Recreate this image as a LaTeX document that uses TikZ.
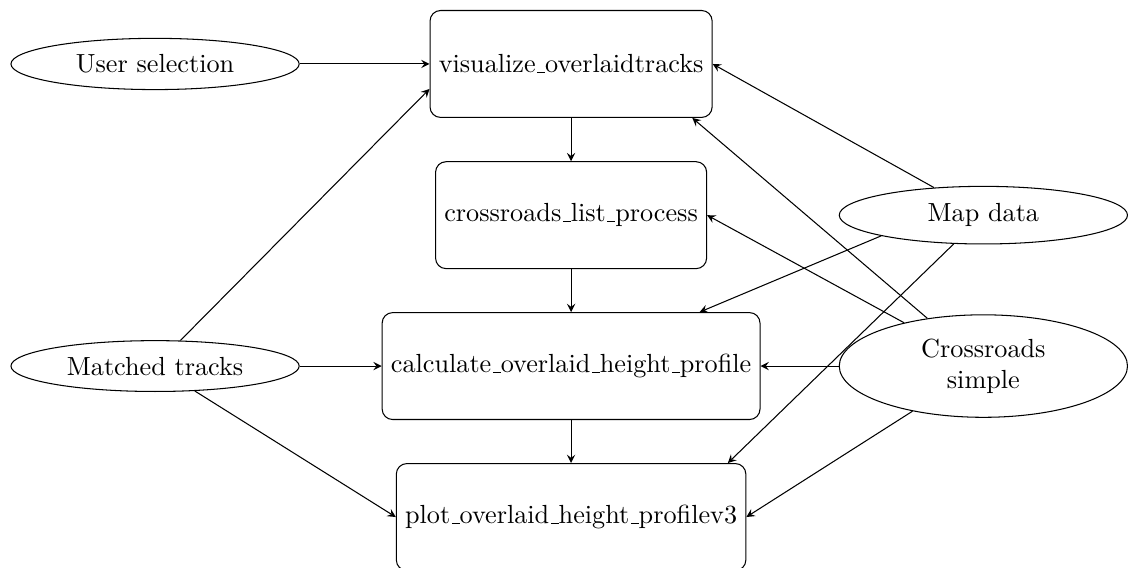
\documentclass[tikz,border=0pt]{standalone}
\usepackage{tikz}
\usetikzlibrary{shapes.geometric}
\newcommand{\us}{\kern.06em\vbox{\hrule width.3em}}

\begin{document}
\begin{tikzpicture}[>=stealth,
    proc/.style={draw, rectangle, rounded corners, minimum height=40.8pt},
    src/.style={draw, ellipse, minimum width=110pt, align=center}]
    \useasboundingbox (0,0) rectangle (15.13,-7.607);
    \node[src] (user) at (2.08,-0.858) {User selection};
    \node[src] (matched) at (2.08,-4.91) {Matched tracks};
    \node[src] (map) at (13.19,-2.886) {Map data};
    \node[src] (cross) at (13.19,-4.91) {Crossroads\\simple};

    \node[proc] (vis) at (7.66,-0.858) {visualize\us overlaidtracks};
    \node[proc] (list) at (7.66,-2.886) {crossroads\us list\us process};
    \node[proc] (calc) at (7.66,-4.91) {calculate\us overlaid\us height\us profile};
    \node[proc] (plot) at (7.66,-6.935) {plot\us overlaid\us height\us profilev3};

    \draw[->] (vis) -- (list); \draw[->] (list) -- (calc); \draw[->] (calc) -- (plot);
    \draw[->] (user) -- (vis);
    \draw[->] (matched) -- (vis.190); \draw[->] (matched) -- (calc); \draw[->] (matched) -- (plot.west);
    \draw[->] (map) -- (vis.east); \draw[->] (map.south west) -- (calc); \draw[->] (map) -- (plot.19.6);
    \draw[->] (cross) -- (vis.-24.5); \draw[->] (cross) -- (list.east); \draw[->] (cross) -- (calc); \draw[->] (cross) -- (plot.east);
\end{tikzpicture}
\end{document}
